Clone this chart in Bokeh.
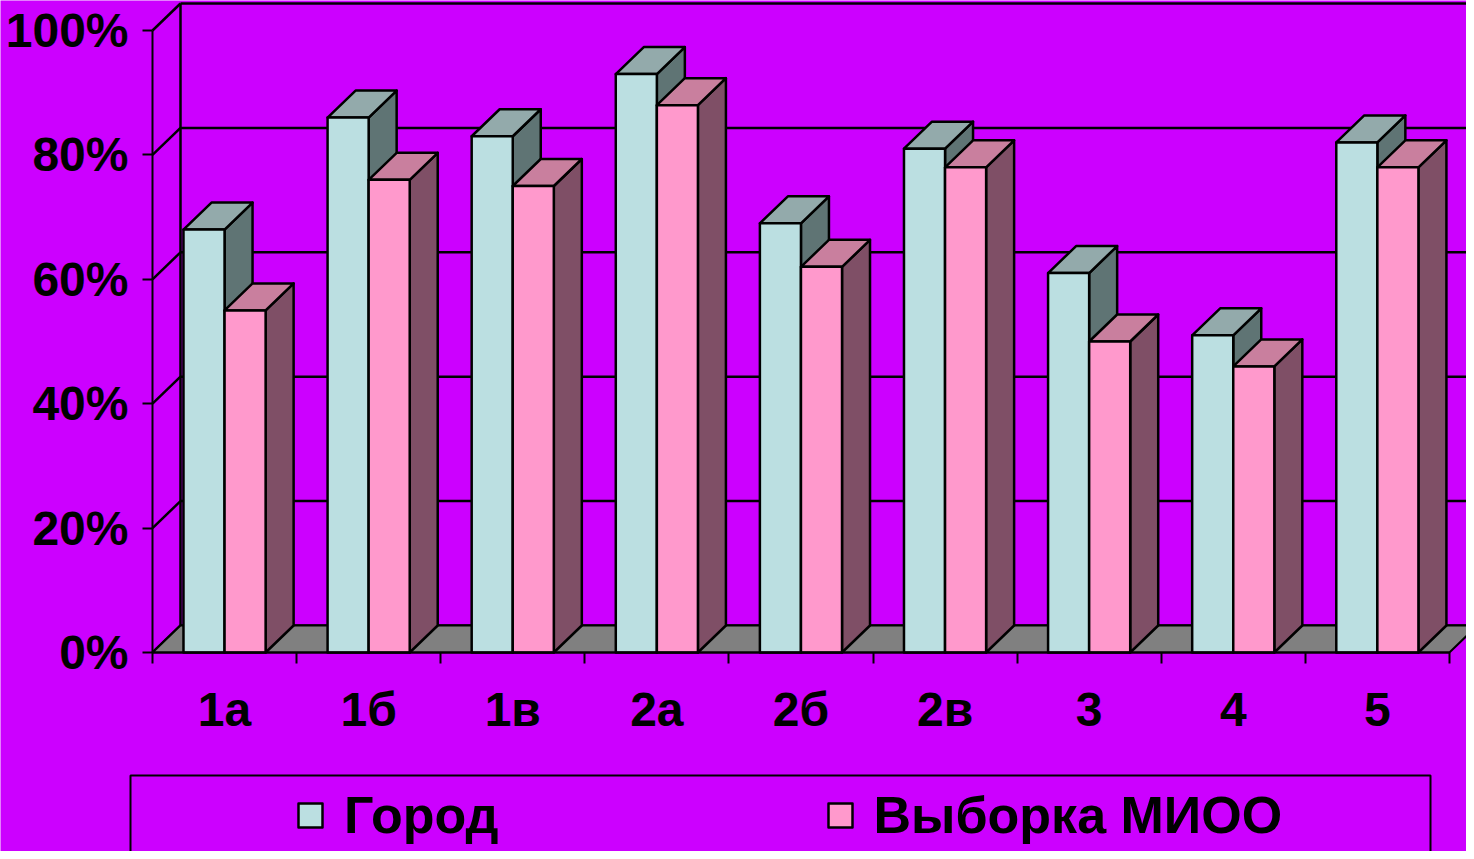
from bokeh.plotting import figure
from bokeh.models import FixedTicker, BoxAnnotation, Legend, LegendItem, Range1d
from bokeh.embed import file_html
from bokeh.resources import INLINE

# ---- data ----
categories = ["1а", "1б", "1в", "2а", "2б", "2в", "3", "4", "5"]
gorod = [68, 86, 83, 93, 69, 81, 61, 51, 82]
vyborka = [55, 76, 75, 88, 62, 78, 50, 46, 78]
series_names = ["Город", "Выборка МИОО"]
y_ticks = [0, 20, 40, 60, 80, 100]
y_tick_labels = ["0%", "20%", "40%", "60%", "80%", "100%"]

# ---- styling / geometry ----
BG = "#CC00FF"
W, H = 1466, 851
OX, OY = 152, 652          # canvas position of the data origin
n = len(categories)
PX_X = 144.1
PX_Y = 6.22
DX = 28 / PX_X
DY = 27 / PX_Y
BW = 0.285
FONT = "Liberation Sans"

p = figure(width=W, height=H, output_backend="svg", toolbar_location=None,
           x_range=Range1d(-OX / PX_X, (W - OX) / PX_X),
           y_range=Range1d(-(H - OY) / PX_Y, OY / PX_Y),
           min_border=0,
           background_fill_color=BG, border_fill_color=BG,
           outline_line_color=None)
p.xgrid.visible = False
p.ygrid.visible = False

LW = 2.5
top_tick = y_ticks[-1]
# back wall gridlines
p.segment(x0=[DX] * len(y_ticks), y0=[t + DY for t in y_ticks],
          x1=[n + DX] * len(y_ticks), y1=[t + DY for t in y_ticks],
          line_color="black", line_width=LW)
# side wall diagonals
p.segment(x0=[0] * len(y_ticks), y0=y_ticks,
          x1=[DX] * len(y_ticks), y1=[t + DY for t in y_ticks],
          line_color="black", line_width=LW)
# back wall left edge
p.segment(x0=[DX], y0=[DY], x1=[DX], y1=[top_tick + DY],
          line_color="black", line_width=LW)
# floor
p.patch([0, n, n + DX, DX], [0, 0, DY, DY], fill_color="#808080",
        line_color="black", line_width=2)


def draw_series(values, offset, front, topc, side):
    lefts = [i + 0.5 + offset for i in range(n)]
    rights = [l + BW for l in lefts]
    p.patches(xs=[[r, r, r + DX, r + DX] for r in rights],
              ys=[[0, v, v + DY, DY] for v in values],
              fill_color=side, line_color="black", line_width=LW,
              line_join="round")
    p.patches(xs=[[l, l + DX, r + DX, r] for l, r in zip(lefts, rights)],
              ys=[[v, v + DY, v + DY, v] for v in values],
              fill_color=topc, line_color="black", line_width=LW,
              line_join="round")
    return p.quad(left=lefts, right=rights, bottom=0, top=values,
                  fill_color=front, line_color="black", line_width=LW,
                  line_join="round")


r1 = draw_series(gorod, -BW, "#BBDFE1", "#93AAAB", "#5F7474")
r2 = draw_series(vyborka, 0, "#FF99CC", "#C97F9E", "#7F4F66")

# ---- axes (crossing at the origin) ----
ya = p.yaxis[0]
ya.fixed_location = 0
ya.ticker = FixedTicker(ticks=y_ticks)
ya.major_label_overrides = dict(zip(y_ticks, y_tick_labels))
ya.bounds = (0, top_tick)
ya.major_tick_out = 10
ya.major_tick_in = 0
ya.minor_tick_out = 0
ya.minor_tick_in = 0
ya.axis_line_width = 2
ya.major_tick_line_width = 2
ya.major_label_text_font = FONT
ya.major_label_text_font_size = "48px"
ya.major_label_text_font_style = "bold"
ya.major_label_text_color = "black"
ya.major_label_standoff = 14

centers = [i + 0.5 for i in range(n)]
xa = p.xaxis[0]
xa.fixed_location = 0
xa.ticker = FixedTicker(ticks=centers, minor_ticks=list(range(n + 1)))
xa.major_label_overrides = dict(zip(centers, categories))
xa.bounds = (0, n)
xa.major_tick_out = 0
xa.major_tick_in = 0
xa.minor_tick_out = 11
xa.minor_tick_in = 0
xa.minor_tick_line_width = 2
xa.minor_tick_line_color = "black"
xa.axis_line_width = 2
xa.major_label_text_font = FONT
xa.major_label_text_font_size = "48px"
xa.major_label_text_font_style = "bold"
xa.major_label_text_color = "black"
xa.major_label_standoff = 19

# ---- legend ----
box = BoxAnnotation(left=130, right=1430, top=775, bottom=H + 20,
                    left_units="canvas", right_units="canvas",
                    top_units="canvas", bottom_units="canvas",
                    fill_alpha=0, line_color="black", line_alpha=1.0,
                    line_width=2)
p.add_layout(box)

legend = Legend(items=[LegendItem(label=series_names[0], renderers=[r1]),
                       LegendItem(label=series_names[1], renderers=[r2])],
                orientation="horizontal", location=(295, 6),
                glyph_width=30, glyph_height=30, label_standoff=19,
                spacing=326, padding=0, margin=0,
                border_line_color=None, background_fill_alpha=0,
                label_text_font=FONT, label_text_font_size="52px",
                label_text_font_style="bold", label_text_color="black")
p.add_layout(legend)

open("out.html", "w").write(file_html(p, INLINE))
